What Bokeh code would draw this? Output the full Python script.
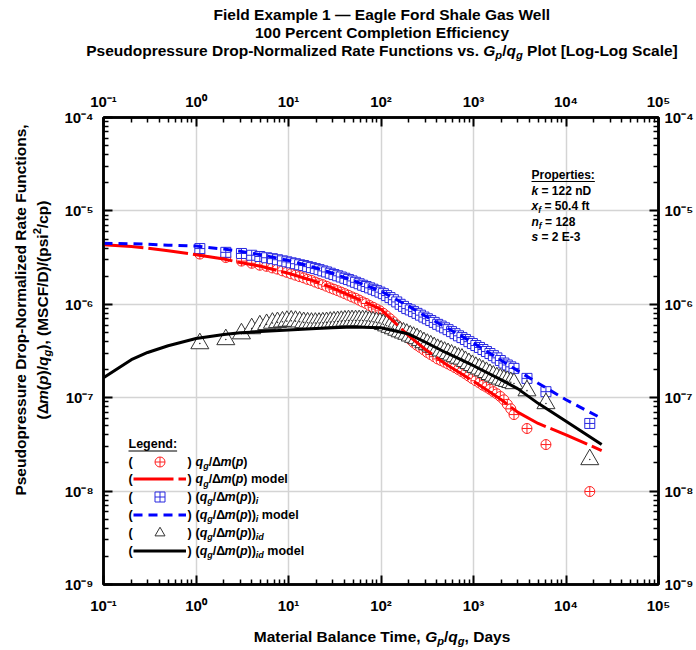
import math
from bokeh.plotting import figure
from bokeh.layouts import column, row
from bokeh.models import (LogAxis, FixedTicker, CustomJSTickFormatter, Label,
                          BoxAnnotation, Legend, LegendItem, Range1d)
from bokeh.embed import file_html
from bokeh.resources import INLINE

# ---------------- data ----------------
t_days = [1.1, 2.1, 3.1, 4.0, 4.9, 5.8, 6.7, 7.6, 8.6, 9.6, 10.7, 11.9, 13.2, 14.6,
          16.1, 17.7, 19.5, 21.4, 23.5, 25.8, 28.3, 31.0, 34.0, 37.2, 40.7, 44.5,
          48.6, 53.1, 58.0, 63.3, 69.0, 75.3, 82.0, 89.4, 97.4, 106, 115, 125, 136,
          148, 161, 175, 190, 207, 225, 245, 267, 291, 317, 345, 376, 410, 447, 487,
          531, 579, 631, 688, 750, 818, 892, 973, 1060, 1160, 1265, 1380, 1505, 1640,
          1790, 1950, 2130, 2320, 2530, 2740, 3785, 6070, 18070]

qg_dm = [3.45e-6, 3.17e-6, 2.9e-6, 2.75e-6, 2.62e-6, 2.55e-6, 2.45e-6, 2.38e-6, 2.28e-6,
         2.2e-6, 2.12e-6, 2.05e-6, 1.98e-6, 1.92e-6, 1.85e-6, 1.8e-6, 1.73e-6, 1.67e-6,
         1.62e-6, 1.56e-6, 1.5e-6, 1.45e-6, 1.4e-6, 1.35e-6, 1.3e-6, 1.25e-6, 1.2e-6,
         1.16e-6, 1.11e-6, 1.06e-6, 1.02e-6, 9.7e-7, 9.3e-7, 8.9e-7, 8.5e-7, 8.0e-7,
         7.5e-7, 7.0e-7, 6.5e-7, 6.0e-7, 5.5e-7, 5.0e-7, 4.6e-7, 4.2e-7, 3.9e-7, 3.65e-7,
         3.45e-7, 3.25e-7, 3.05e-7, 2.9e-7, 2.75e-7, 2.6e-7, 2.5e-7, 2.4e-7, 2.3e-7,
         2.2e-7, 2.1e-7, 2.0e-7, 1.9e-7, 1.8e-7, 1.7e-7, 1.6e-7, 1.52e-7, 1.44e-7,
         1.36e-7, 1.3e-7, 1.23e-7, 1.16e-7, 1.1e-7, 1.03e-7, 9.5e-8, 8.5e-8, 7.6e-8,
         6.6e-8, 4.68e-8, 3.15e-8, 9.9e-9]

qg_dm_i = [3.95e-6, 3.6e-6, 3.5e-6, 3.35e-6, 3.25e-6, 3.15e-6, 3.08e-6, 3.0e-6, 2.92e-6,
           2.85e-6, 2.78e-6, 2.72e-6, 2.65e-6, 2.6e-6, 2.53e-6, 2.47e-6, 2.41e-6, 2.35e-6,
           2.28e-6, 2.22e-6, 2.15e-6, 2.08e-6, 2.02e-6, 1.96e-6, 1.9e-6, 1.84e-6, 1.78e-6,
           1.72e-6, 1.66e-6, 1.6e-6, 1.55e-6, 1.5e-6, 1.45e-6, 1.4e-6, 1.35e-6, 1.3e-6,
           1.24e-6, 1.18e-6, 1.12e-6, 1.06e-6, 1.0e-6, 9.5e-7, 9.0e-7, 8.7e-7, 8.35e-7,
           8.0e-7, 7.65e-7, 7.3e-7, 7.0e-7, 6.7e-7, 6.4e-7, 6.1e-7, 5.85e-7, 5.6e-7,
           5.35e-7, 5.1e-7, 4.85e-7, 4.6e-7, 4.4e-7, 4.2e-7, 3.98e-7, 3.8e-7, 3.62e-7,
           3.45e-7, 3.28e-7, 3.12e-7, 2.97e-7, 2.82e-7, 2.67e-7, 2.5e-7, 2.35e-7, 2.24e-7,
           2.14e-7, 2.06e-7, 1.61e-7, 1.16e-7, 5.3e-8]

qg_dm_id = [3.8e-7, 4.2e-7, 4.85e-7, 5.5e-7, 5.9e-7, 6.1e-7, 6.3e-7, 6.4e-7, 6.5e-7,
            6.6e-7, 6.65e-7, 6.6e-7, 6.5e-7, 6.4e-7, 6.35e-7, 6.3e-7, 6.3e-7, 6.3e-7,
            6.35e-7, 6.4e-7, 6.45e-7, 6.5e-7, 6.55e-7, 6.6e-7, 6.65e-7, 6.7e-7, 6.7e-7,
            6.7e-7, 6.7e-7, 6.7e-7, 6.65e-7, 6.6e-7, 6.5e-7, 6.4e-7, 6.3e-7, 6.1e-7,
            5.9e-7, 5.7e-7, 5.5e-7, 5.3e-7, 5.1e-7, 4.95e-7, 4.8e-7, 4.6e-7, 4.45e-7,
            4.3e-7, 4.1e-7, 3.9e-7, 3.75e-7, 3.6e-7, 3.45e-7, 3.3e-7, 3.18e-7, 3.08e-7,
            2.98e-7, 2.87e-7, 2.76e-7, 2.66e-7, 2.6e-7, 2.45e-7, 2.33e-7, 2.22e-7, 2.12e-7,
            2.04e-7, 1.95e-7, 1.87e-7, 1.78e-7, 1.71e-7, 1.64e-7, 1.59e-7, 1.54e-7,
            1.5e-7, 1.46e-7, 1.42e-7, 1.19e-7, 8.67e-8, 2.18e-8]

t_model = [0.1, 0.2, 0.3, 0.5, 1, 2, 3, 5, 10, 20, 30, 50, 100, 200, 300, 500,
           1000, 2000, 3000, 5000, 10000, 24300]
model_dm = [4.35e-6, 4.15e-6, 4.0e-6, 3.75e-6, 3.4e-6, 3.05e-6, 2.8e-6, 2.55e-6, 2.15e-6,
            1.75e-6, 1.5e-6, 1.2e-6, 8.8e-7, 4.6e-7, 3.3e-7, 2.3e-7, 1.5e-7, 9.5e-8,
            7.0e-8, 5.3e-8, 4.0e-8, 2.72e-8]
model_dm_i = [4.5e-6, 4.45e-6, 4.4e-6, 4.3e-6, 4.2e-6, 3.9e-6, 3.7e-6, 3.4e-6, 2.95e-6,
              2.45e-6, 2.15e-6, 1.8e-6, 1.38e-6, 9.5e-7, 7.5e-7, 5.7e-7, 3.85e-7, 2.5e-7,
              1.95e-7, 1.43e-7, 9.5e-8, 6.0e-8]
model_dm_id = [1.64e-7, 2.55e-7, 3.05e-7, 3.6e-7, 4.3e-7, 4.75e-7, 4.95e-7, 5.1e-7, 5.3e-7,
               5.5e-7, 5.6e-7, 5.7e-7, 5.6e-7, 4.8e-7, 3.95e-7, 3.05e-7, 2.2e-7, 1.55e-7,
               1.25e-7, 8.7e-8, 5.6e-8, 3.15e-8]

x_decades = [-1, 0, 1, 2, 3, 4, 5]
y_decades = [-9, -8, -7, -6, -5, -4]

# ---------------- layout constants (page pixels) ----------------
W, H = 696, 650
FL, FR, FT, FB = 103, 660, 117, 584      # plot frame
TOP_H = 62                                 # title strip height
BOT_Y = 625                                # start of x-label strip
YL_W = 56                                  # y-label strip width
FONT = "Liberation Sans"
NB = "\u00a0"

# ---------------- main figure ----------------
MW, MH = W - YL_W, BOT_Y - TOP_H
p = figure(width=MW, height=MH, x_axis_type="log", y_axis_type="log", title=None,
           x_range=Range1d(10.0 ** x_decades[0], 10.0 ** x_decades[-1]),
           y_range=Range1d(10.0 ** y_decades[0], 10.0 ** y_decades[-1]),
           output_backend="svg", toolbar_location=None,
           min_border_left=FL - YL_W, min_border_right=W - FR,
           min_border_top=FT - TOP_H, min_border_bottom=BOT_Y - FB)
p.background_fill_color = "white"
p.border_fill_color = "white"
p.outline_line_color = "black"
p.outline_line_width = 2.5

bottom_ax = p.below[0]
left_ax = p.left[0]

xt = FixedTicker(ticks=[10.0 ** k for k in x_decades],
                 minor_ticks=[m * 10.0 ** k for k in x_decades[:-1] for m in range(2, 10)])
yt = FixedTicker(ticks=[10.0 ** k for k in y_decades],
                 minor_ticks=[m * 10.0 ** k for k in y_decades[:-1] for m in range(2, 10)])

fmt_code = """
const sup = {'-':'\u207b','0':'\u2070','1':'\u00b9','2':'\u00b2','3':'\u00b3','4':'\u2074',
             '5':'\u2075','6':'\u2076','7':'\u2077','8':'\u2078','9':'\u2079'};
const e = Math.round(Math.log10(tick));
return '10' + String(e).split('').map(c => sup[c]).join('');
"""

top_ax = LogAxis()
right_ax = LogAxis()
p.add_layout(top_ax, "above")
p.add_layout(right_ax, "right")

for ax, tk, so in [(bottom_ax, xt, 12), (top_ax, xt, 8), (left_ax, yt, 10), (right_ax, yt, 6)]:
    ax.ticker = tk
    ax.formatter = CustomJSTickFormatter(code=fmt_code)
    ax.major_tick_in = 9
    ax.major_tick_out = 0
    ax.minor_tick_in = 5
    ax.minor_tick_out = 0
    ax.major_tick_line_width = 2
    ax.minor_tick_line_width = 1.5
    ax.axis_line_width = 2.5
    ax.major_label_text_font = FONT
    ax.major_label_text_font_style = "bold"
    ax.major_label_text_font_size = "15px"
    ax.major_label_text_color = "black"
    ax.major_label_standoff = so

p.xgrid.ticker = xt
p.ygrid.ticker = yt
p.grid.grid_line_color = "#d4d4d4"
p.grid.grid_line_width = 1.5
p.grid.minor_grid_line_color = None

# ---------------- data markers ----------------
r_red = p.scatter(t_days, qg_dm, marker="circle_cross", size=10, line_color="#ff2020",
                  fill_color="white", line_width=1)
r_blue = p.scatter(t_days, qg_dm_i, marker="square_cross", size=10, line_color="#2828e0",
                   fill_color="white", line_width=1)
r_black = p.scatter(t_days, qg_dm_id, marker="triangle", size=18, line_color="#333333",
                    fill_color="white", line_width=1)
p.scatter(t_days, qg_dm_id, marker="circle", size=1.6, line_color=None, fill_color="#333333")

# ---------------- model lines ----------------
l_red = p.line(t_model, model_dm, line_color="#ff0000", line_width=3, line_dash="40 5")
l_blue = p.line(t_model, model_dm_i, line_color="#0000ff", line_width=3, line_dash="9 6")
l_black = p.line(t_model, model_dm_id, line_color="black", line_width=3)

# ---------------- legend glyph samples (one legend per row) ----------------
ROW0, ROWSTEP = 461, 17.8
for i, r in enumerate([r_red, l_red, r_blue, l_blue, r_black, l_black]):
    yc = ROW0 + i * ROWSTEP
    gh = 25
    leg = Legend(items=[LegendItem(label=NB, renderers=[r])],
                 location=(133 - FL, FB - (yc + gh / 2.0)), glyph_width=53, glyph_height=gh,
                 label_height=gh, label_width=1, spacing=0, padding=0, margin=0,
                 label_standoff=0, label_text_font_size="1px", background_fill_alpha=0,
                 border_line_color=None)
    p.add_layout(leg)

# ---------------- helper strips for text outside the frame ----------------
def strip(w, h):
    f = figure(width=w, height=h, title=None, x_range=Range1d(0, 1), y_range=Range1d(0, 1),
               output_backend="svg", toolbar_location=None, min_border=0,
               x_axis_location=None, y_axis_location=None)
    f.outline_line_color = None
    f.background_fill_color = "white"
    f.border_fill_color = "white"
    f.grid.visible = False
    return f

title_fig = strip(W, TOP_H)
ylab_fig = strip(YL_W, MH)
xlab_fig = strip(W, H - BOT_Y)

# each target: (figure, page x of its frame left, page y of its frame bottom)
T_MAIN = (p, FL, FB)
T_TITLE = (title_fig, 0, TOP_H)
T_YLAB = (ylab_fig, 0, BOT_Y)
T_XLAB = (xlab_fig, 0, H)

# ---------------- mixed-style text helpers ----------------
WID = {' ': 278, NB: 278, '(': 333, ')': 333, ',': 278, '-': 333, '.': 278, '/': 278,
       ':': 333, '[': 333, ']': 333, '=': 584, '\u2014': 1000, '\u0394': 667,
       'A': 722, 'B': 722, 'C': 722, 'D': 722, 'E': 667, 'F': 611, 'G': 778, 'H': 722,
       'I': 278, 'J': 556, 'K': 722, 'L': 611, 'M': 833, 'N': 722, 'O': 778, 'P': 667,
       'Q': 778, 'R': 722, 'S': 667, 'T': 611, 'U': 722, 'V': 667, 'W': 944, 'X': 667,
       'Y': 667, 'Z': 611, 'a': 556, 'b': 611, 'c': 556, 'd': 611, 'e': 556, 'f': 333,
       'g': 611, 'h': 611, 'i': 278, 'j': 278, 'k': 556, 'l': 278, 'm': 889, 'n': 611,
       'o': 611, 'p': 611, 'q': 611, 'r': 389, 's': 556, 't': 333, 'u': 611, 'v': 556,
       'w': 778, 'x': 556, 'y': 556, 'z': 500}
KIND = {'b': ("bold", 1.0, 0.0), 'bi': ("bold italic", 1.0, 0.0),
        'sub': ("bold italic", 0.72, -0.24), 'sup': ("bold", 0.72, 0.42)}
MID = 0.35   # distance from baseline to the middle of the text box, in em


def seg_adv(txt, fs):
    return sum(WID.get(c, 556) for c in txt) * fs / 1000.0


def seg_width(segs, size):
    return sum(seg_adv(t, size * KIND[k][1]) for t, k in segs)


def rich(target, segs, cx, cy, size, align="left", vertical=False):
    """(cx, cy): page coords of the baseline start (or centre when align='center')."""
    fig, ox, oy = target
    total = seg_width(segs, size)
    if vertical:
        pos = cy + (total / 2 if align == "center" else 0)   # text runs upward
    else:
        pos = cx - (total / 2 if align == "center" else 0)
    for txt, kind in segs:
        txt = txt.replace(" ", NB)
        style, f, dy = KIND[kind]
        fs = size * f
        lift = dy * size + MID * fs          # move from baseline to box middle
        if vertical:
            sx = (cx - lift) - ox
            sy = oy - pos
        else:
            sx = pos - ox
            sy = (oy - cy) + lift
        fig.add_layout(Label(x=sx, y=sy, x_units="screen", y_units="screen", text=txt,
                             text_font=FONT, text_font_size=f"{fs:.2f}px",
                             text_font_style=style, text_color="black",
                             text_align="left", text_baseline="middle",
                             angle=(math.pi / 2 if vertical else 0)))
        adv = seg_adv(txt, fs)
        pos = pos - adv if vertical else pos + adv
    return total


def underline(target, x0, x1, cy):
    fig, ox, oy = target
    fig.add_layout(BoxAnnotation(left=x0 - ox, right=x1 - ox, bottom=oy - cy - 0.6,
                                 top=oy - cy + 0.6, left_units="screen",
                                 right_units="screen", bottom_units="screen",
                                 top_units="screen", fill_color="black", fill_alpha=1,
                                 line_color=None))

# ---------------- titles ----------------
TC = 381.5
TS = 15.5
rich(T_TITLE, [("Field Example 1 \u2014 Eagle Ford Shale Gas Well", 'b')], TC, 19, TS, "center")
rich(T_TITLE, [("100 Percent Completion Efficiency", 'b')], TC, 37, TS, "center")
rich(T_TITLE, [("Pseudopressure Drop-Normalized Rate Functions vs. ", 'b'), ("G", 'bi'),
               ("p", 'sub'), ("/", 'b'), ("q", 'bi'), ("g", 'sub'),
               (" Plot [Log-Log Scale]", 'b')], TC, 55, TS, "center")

# ---------------- axis titles ----------------
AS = 15.5
rich(T_XLAB, [("Material Balance Time, ", 'b'), ("G", 'bi'), ("p", 'sub'), ("/", 'b'),
              ("q", 'bi'), ("g", 'sub'), (", Days", 'b')], TC, 641, AS, "center")
rich(T_YLAB, [("Pseudopressure Drop-Normalized Rate Functions,", 'b')], 25, 350.5, AS,
     "center", vertical=True)
rich(T_YLAB, [("(\u0394", 'b'), ("m", 'bi'), ("(", 'b'), ("p", 'bi'), (")/", 'b'), ("q", 'bi'),
              ("g", 'sub'), ("), (MSCF/D)/(psi", 'b'), ("2", 'sup'), ("/cp)", 'b')],
     47, 350.5, AS, "center", vertical=True)

# ---------------- legend text ----------------
LS = 12.5
w = rich(T_MAIN, [("Legend:", 'b')], 128, 448, LS)
underline(T_MAIN, 128, 128 + w, 450.5)
base = [("q", 'bi'), ("g", 'sub'), ("/\u0394", 'b'), ("m", 'bi'), ("(", 'b'), ("p", 'bi')]
rows = [
    base + [(")", 'b')],
    base + [(")", 'b'), (" model", 'b')],
    [("(", 'b')] + base + [("))", 'b'), ("i", 'sub')],
    [("(", 'b')] + base + [("))", 'b'), ("i", 'sub'), (" model", 'b')],
    [("(", 'b')] + base + [("))", 'b'), ("id", 'sub')],
    [("(", 'b')] + base + [("))", 'b'), ("id", 'sub'), (" model", 'b')],
]
for i, segs in enumerate(rows):
    yb = ROW0 + i * ROWSTEP + 4.4
    rich(T_MAIN, [("(", 'b')], 128, yb, LS)
    rich(T_MAIN, [(")", 'b')], 187, yb, LS)
    rich(T_MAIN, segs, 195, yb, LS)

# ---------------- properties text ----------------
PS = 12
w = rich(T_MAIN, [("Properties:", 'b')], 531, 179, PS)
underline(T_MAIN, 531, 531 + w, 181)
rich(T_MAIN, [("k", 'bi'), (" = 122 nD", 'b')], 531, 195, PS)
rich(T_MAIN, [("x", 'bi'), ("f", 'sub'), (" = 50.4 ft", 'b')], 531, 210, PS)
rich(T_MAIN, [("n", 'bi'), ("f", 'sub'), (" = 128", 'b')], 531, 226, PS)
rich(T_MAIN, [("s", 'bi'), (" = 2 E-3", 'b')], 531, 241, PS)

layout = column(title_fig, row(ylab_fig, p), xlab_fig)
open("out.html", "w").write(file_html(layout, INLINE))
